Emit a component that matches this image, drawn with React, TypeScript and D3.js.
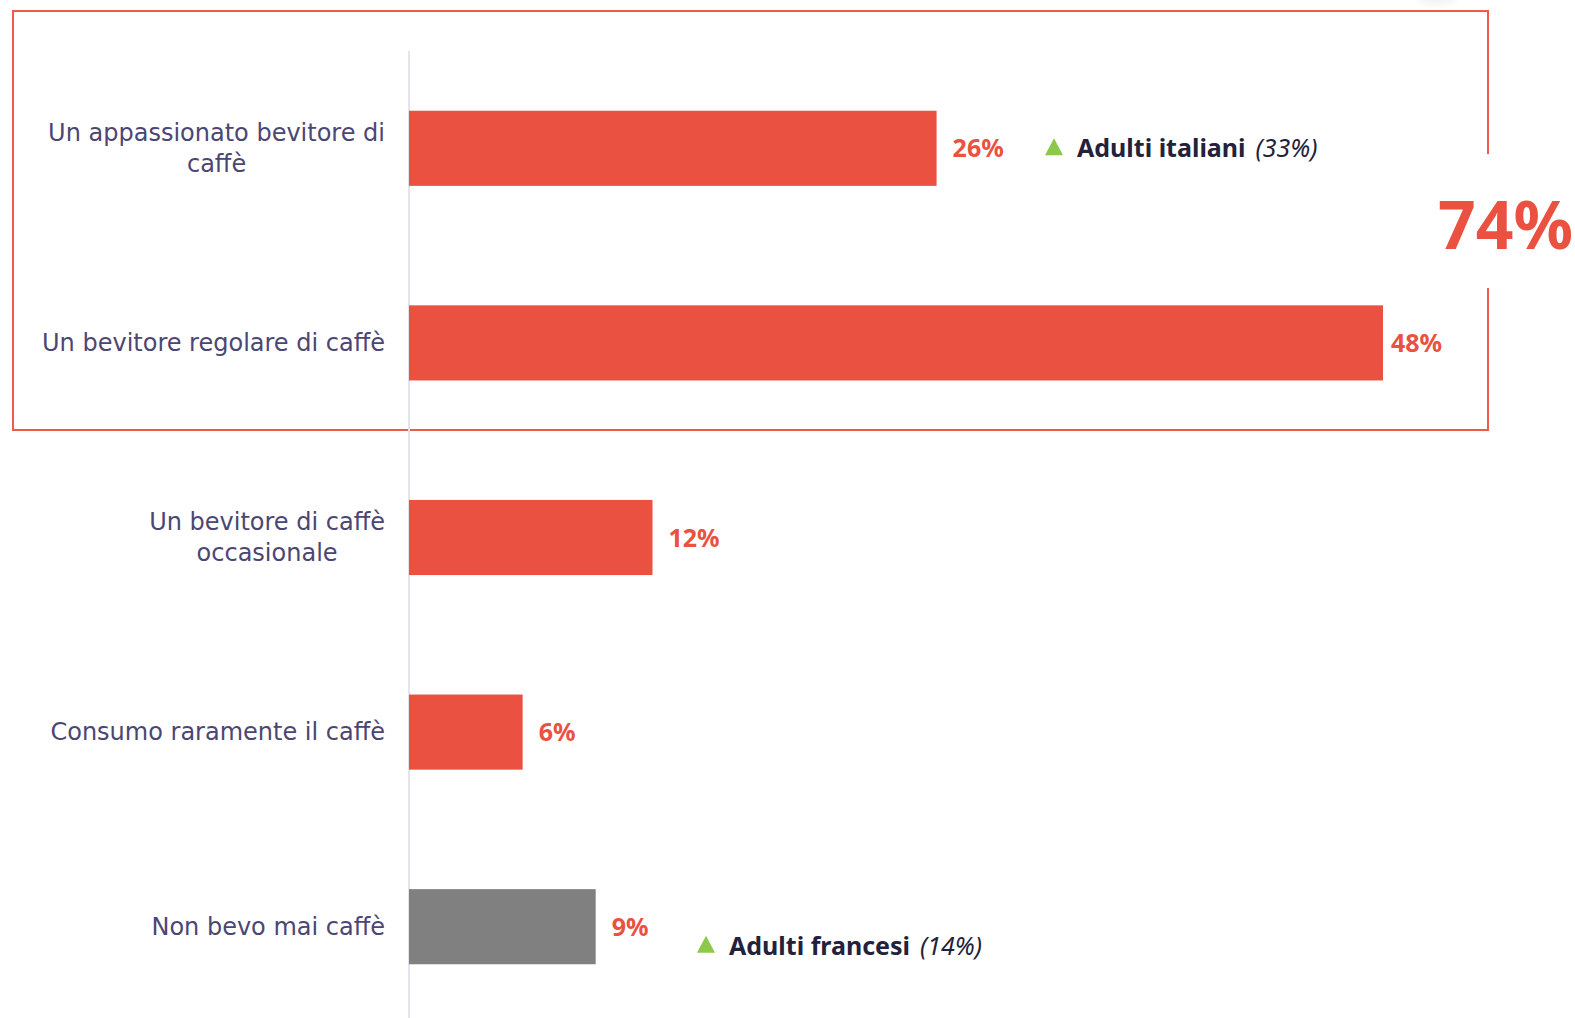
import React from "react";
import * as d3 from "d3";

const categories = [
  ["Un appassionato bevitore di", "caffè"],
  ["Un bevitore regolare di caffè"],
  ["Un bevitore di caffè", "occasionale"],
  ["Consumo raramente il caffè"],
  ["Non bevo mai caffè"],
];
const values = [26, 48, 12, 5.6, 9.2];
const valueLabels = ["26%", "48%", "12%", "6%", "9%"];
const barColors = ["#EA5140", "#EA5140", "#EA5140", "#EA5140", "#808080"];
const totalLabel = "74%";
const annotationCats = [0, 4];
const annotationNames = ["Adulti italiani", "Adulti francesi"];
const annotationValues = ["(33%)", "(14%)"];

const W = 1575;
const H = 1018;
const RED = "#EA5140";
const CAT_FONT = "24px 'DejaVu Sans'";

function measure(text: string, font: string) {
  const c = document.createElement("canvas").getContext("2d");
  if (!c) return text.length * 12;
  c.font = font;
  return c.measureText(text).width;
}

export default function App() {
  const x = d3.scaleLinear().domain([0, 48]).range([409, 1383]);
  const y = d3
    .scaleBand<number>()
    .domain(d3.range(categories.length))
    .range([51, 1024])
    .paddingInner(0.614)
    .paddingOuter(0.307);
  const bw = y.bandwidth();
  const annX = [1045, 697];
  const annDy = [9, 28];
  const labelGap = [16, 8, 16, 16, 16];
  const labelRight = 385;

  return (
    <svg
      width={W}
      height={H}
      style={{ position: "absolute", left: 0, top: 0, background: "#fff" }}
    >
      <defs>
        <radialGradient id="shadow">
          <stop offset="0%" stopColor="#000" stopOpacity={0.08} />
          <stop offset="100%" stopColor="#000" stopOpacity={0} />
        </radialGradient>
      </defs>
      <ellipse cx={1437} cy={-6} rx={28} ry={16} fill="url(#shadow)" />
      {/* frame */}
      <path
        d={`M1488,154 V11 H13 V430 H1488 V288`}
        fill="none"
        stroke="#EF5B4B"
        strokeWidth={2}
      />
      <text
        x={1573}
        y={249}
        textAnchor="end"
        fill={RED}
        fontFamily="'Noto Sans', sans-serif"
        fontWeight={700}
        fontSize={66}
      >
        {totalLabel}
      </text>
      {/* axis line */}
      <line x1={409} x2={409} y1={51} y2={H} stroke="#E4E4EC" strokeWidth={2} />
      {values.map((v, i) => {
        const y0 = y(i)!;
        const cy = y0 + bw / 2;
        const lines = categories[i];
        const lh = 31;
        const maxW = d3.max(lines, (l) => measure(l, CAT_FONT)) || 0;
        const cx = labelRight - maxW / 2;
        return (
          <g key={i}>
            <rect
              x={x(0)}
              y={y0}
              width={x(v) - x(0)}
              height={bw}
              fill={barColors[i]}
            />
            <text
              x={x(v) + labelGap[i]}
              y={cy + 9}
              fill={RED}
              fontFamily="'Noto Sans', sans-serif"
              fontWeight={700}
              fontSize={25}
            >
              {valueLabels[i]}
            </text>
            <text
              textAnchor="middle"
              fill="#4B4672"
              fontFamily="'DejaVu Sans', sans-serif"
              fontSize={24}
            >
              {lines.map((l, j) => (
                <tspan
                  key={j}
                  x={cx}
                  y={cy + 8 + (j - (lines.length - 1) / 2) * lh}
                >
                  {l}
                </tspan>
              ))}
            </text>
          </g>
        );
      })}
      {annotationCats.map((ci, k) => {
        const cy = y(ci)! + bw / 2 + annDy[k];
        const ax = annX[k];
        return (
          <g key={k}>
            <path
              d={`M${ax},${cy - 2} L${ax + 18},${cy - 2} L${ax + 9},${cy - 19} Z`}
              fill="#8CC94A"
            />
            <text
              x={ax + 32}
              y={cy}
              fontFamily="'Noto Sans', sans-serif"
              fontSize={25}
              fill="#23223A"
            >
              <tspan fontWeight={700}>{annotationNames[k]}</tspan>
              <tspan fontStyle="italic" dx={10}>
                {annotationValues[k]}
              </tspan>
            </text>
          </g>
        );
      })}
    </svg>
  );
}
